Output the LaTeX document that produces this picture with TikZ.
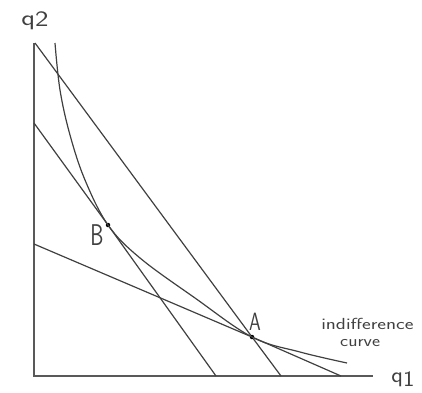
\documentclass[tikz,border=0pt]{standalone}
\usepackage{fontspec}
\begin{document}
\begin{tikzpicture}[x=1pt,y=-1pt,
  axisline/.style={draw=black!65,line width=1.7pt},
  budget/.style={draw=black!75,line width=1.2pt},
  icurve/.style={draw=black!75,line width=1.2pt},
  dotpt/.style={circle,fill=black,inner sep=0pt,minimum size=4.5pt},
  hand/.style={font=\sffamily,text=black!75,inner sep=0pt}]
\useasboundingbox (0,0) rectangle (422,392);
% axes
\coordinate (O) at (34,376);
\coordinate (Ytop) at (34,43);
\coordinate (Xend) at (373,376);
\draw[axisline] (Ytop) -- (O) -- (Xend);
% points
\node[dotpt] (A) at (252,337) {};
\node[dotpt] (B) at (108,225) {};
% budget lines
\coordinate (L1s) at (35,43);
\coordinate (L1e) at (281,376);
\draw[budget] (L1s) -- (A) -- (L1e);
\coordinate (L2s) at (34,123);
\coordinate (L2e) at (216,376);
\draw[budget] (L2s) -- (B) -- (L2e);
\coordinate (L3s) at (34,244);
\coordinate (L3e) at (341,376);
\draw[budget] (L3s) -- (A) -- (L3e);
% indifference curve
\draw[icurve] plot[smooth,tension=0.6] coordinates {(55,43) (60,90) (70,135) (85,180) (108,225) (140,258) (195,298) (252,337) (300,352) (347,363)};
% labels
\node[hand,font=\sffamily\fontsize{22}{22}\selectfont,xscale=1.3] (q2) at (35,21) {q\raisebox{-1pt}{2}};
\node[hand,font=\sffamily\fontsize{22}{22}\selectfont,xscale=1.1] (q1) at (403,379) {q\raisebox{-4pt}{1}};
\node[hand,font=\sffamily\fontsize{30}{30}\selectfont,xscale=0.7] (Blab) at (97,235) {B};
\node[hand,font=\sffamily\fontsize{25}{25}\selectfont,xscale=0.75] (Alab) at (255,322) {A};
\node[hand,font=\sffamily\fontsize{16}{16}\selectfont,xscale=1.3,anchor=west] (ind) at (321,324) {indifference};
\node[hand,font=\sffamily\fontsize{16}{16}\selectfont,xscale=1.2,anchor=west] (cur) at (340,343) {curve};
\end{tikzpicture}
\end{document}
